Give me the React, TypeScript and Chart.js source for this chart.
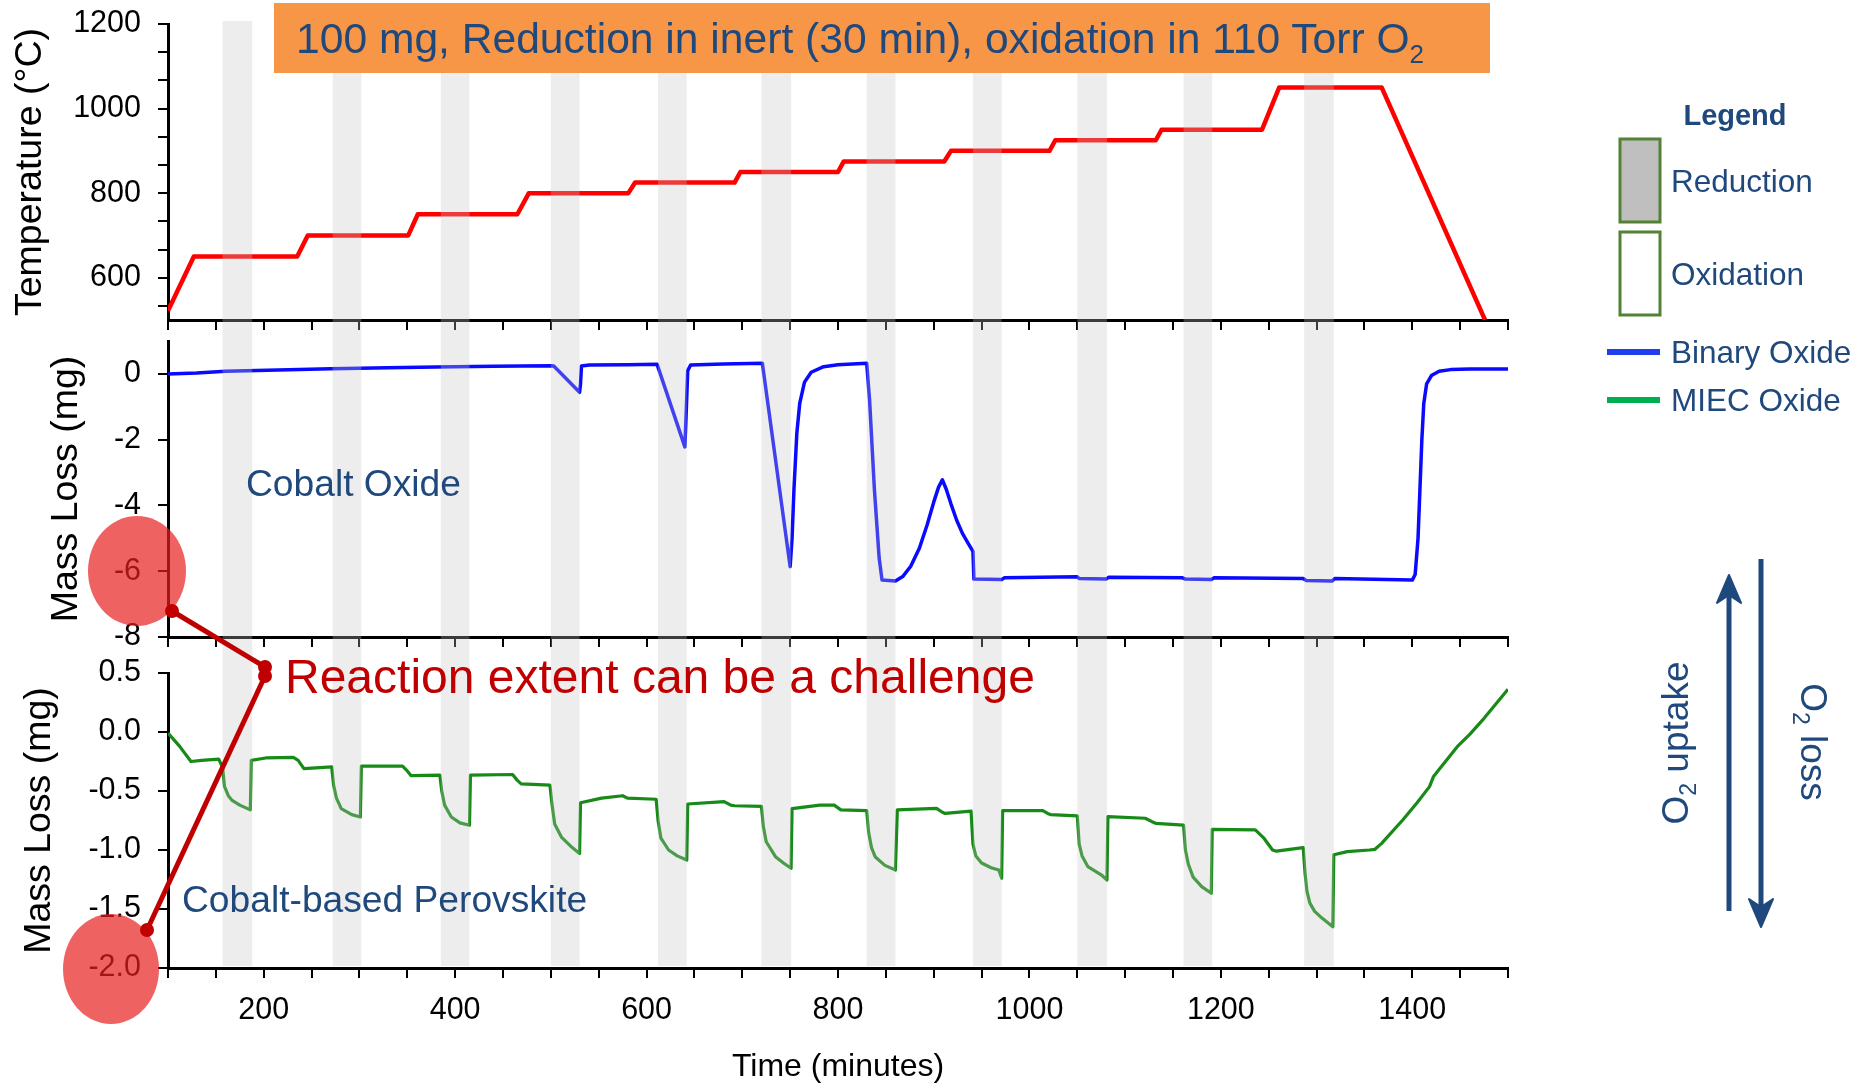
import React, { useEffect, useRef } from 'react';
import { Chart, registerables } from 'chart.js';

Chart.register(...registerables);

const FONT = "'Liberation Sans', Arial, Helvetica, sans-serif";
const NAVY = '#1F497D';
const DARK_RED = '#C00000';
const BAND_COLOR = 'rgba(195,195,195,0.3)';

// ---------------- data ----------------
const TIME_MIN = 100;
const TIME_MAX = 1500;

// reduction (inert) windows, minutes
const REDUCTION_START = [157, 272, 385, 500, 612, 720, 830, 941, 1050, 1161, 1287];
const REDUCTION_END = [188, 302, 415, 530, 642, 751, 860, 971, 1081, 1191, 1318];

// x axis ticks
const X_TICKS = [100, 150, 200, 250, 300, 350, 400, 450, 500, 550, 600, 650, 700, 750, 800, 850, 900, 950, 1000, 1050, 1100, 1150, 1200, 1250, 1300, 1350, 1400, 1450, 1500];
const X_LABELS = [200, 400, 600, 800, 1000, 1200, 1400];

// temperature panel
const TEMP_TICKS = [533.333, 600, 666.667, 733.333, 800, 866.667, 933.333, 1000, 1066.667, 1133.333, 1200];
const TEMP_LABELS = [600, 800, 1000, 1200];
const TEMP_TIME = [100, 127, 235, 246, 351, 361, 465, 477, 581, 588, 692, 698, 800, 806, 911, 918, 1021, 1027, 1132, 1138, 1243, 1261, 1368, 1476];
const TEMP_VALUE = [522, 650, 650, 700, 700, 750, 750, 800, 800, 825, 825, 850, 850, 875, 875, 900, 900, 925, 925, 950, 950, 1050, 1050, 500];

// binary oxide (cobalt oxide) panel
const BINARY_TICKS = [-8, -6, -4, -2, 0];
const BINARY_TIME = [100, 130, 160, 215, 270, 330, 380, 440, 500, 503, 530, 531, 532, 540, 580, 611, 640, 641, 643, 646, 680, 721, 750, 752, 754, 757, 760, 765, 772, 785, 800, 830, 833, 838, 843, 846, 860, 868, 876, 885, 893, 900, 905, 909, 913, 918, 924, 930, 936, 941, 942, 971, 974, 1050, 1052, 1080, 1083, 1160, 1163, 1190, 1193, 1286, 1289, 1316, 1319, 1400, 1403, 1406, 1408, 1410, 1412, 1415, 1420, 1428, 1440, 1460, 1500];
const BINARY_MASS = [0, 0.03, 0.08, 0.12, 0.16, 0.19, 0.21, 0.23, 0.25, 0.24, -0.56, -0.3, 0.24, 0.27, 0.28, 0.29, -2.22, -1.5, 0.1, 0.27, 0.3, 0.32, -5.86, -5.0, -3.5, -1.8, -0.9, -0.25, 0.05, 0.22, 0.28, 0.32, -0.8, -3.5, -5.6, -6.27, -6.3, -6.15, -5.85, -5.3, -4.6, -3.9, -3.45, -3.22, -3.5, -3.95, -4.45, -4.85, -5.15, -5.4, -6.24, -6.25, -6.2, -6.17, -6.22, -6.24, -6.18, -6.2, -6.24, -6.25, -6.2, -6.22, -6.28, -6.3, -6.22, -6.27, -6.1, -5.0, -3.5, -2.0, -0.9, -0.3, -0.05, 0.08, 0.13, 0.15, 0.15];

// MIEC oxide (cobalt-based perovskite) panel
const MIEC_TICKS = [-2, -1.5, -1, -0.5, 0, 0.5];
const MIEC_TIME = [100, 112, 124, 135, 153, 157, 159, 163, 167, 175, 186, 187, 202, 231, 236, 242, 271, 273, 276, 281, 292, 301, 302, 345, 350, 354, 384, 386, 389, 396, 405, 415, 416, 460, 465, 469, 499, 501, 504, 511, 521, 530, 531, 553, 575, 580, 610, 612, 615, 623, 632, 642, 643, 681, 688, 692, 720, 722, 725, 735, 743, 751, 752, 781, 796, 803, 830, 832, 835, 839, 849, 860, 862, 903, 909, 912, 939, 941, 944, 950, 960, 968, 971, 972, 1014, 1019, 1022, 1050, 1052, 1055, 1061, 1075, 1081, 1082, 1121, 1128, 1132, 1161, 1163, 1166, 1171, 1180, 1190, 1191, 1236, 1245, 1254, 1258, 1286, 1288, 1290, 1293, 1298, 1304, 1317, 1318, 1332, 1355, 1361, 1368, 1390, 1405, 1418, 1422, 1429, 1447, 1460, 1475, 1500];
const MIEC_MASS = [-0.01, -0.12, -0.25, -0.24, -0.23, -0.3, -0.46, -0.54, -0.58, -0.62, -0.66, -0.24, -0.22, -0.215, -0.24, -0.31, -0.295, -0.45, -0.56, -0.65, -0.7, -0.72, -0.29, -0.29, -0.33, -0.37, -0.365, -0.5, -0.62, -0.72, -0.77, -0.79, -0.365, -0.36, -0.41, -0.44, -0.45, -0.6, -0.78, -0.89, -0.97, -1.03, -0.6, -0.56, -0.54, -0.56, -0.57, -0.75, -0.9, -1.0, -1.05, -1.085, -0.61, -0.59, -0.62, -0.625, -0.63, -0.8, -0.93, -1.06, -1.11, -1.155, -0.65, -0.62, -0.62, -0.66, -0.667, -0.85, -0.98, -1.06, -1.13, -1.17, -0.66, -0.647, -0.68, -0.69, -0.67, -0.95, -1.05, -1.11, -1.15, -1.17, -1.24, -0.667, -0.667, -0.69, -0.7, -0.71, -0.95, -1.05, -1.14, -1.21, -1.254, -0.717, -0.731, -0.76, -0.774, -0.79, -1.0, -1.12, -1.23, -1.31, -1.367, -0.825, -0.83, -0.9, -1.0, -1.01, -0.98, -1.2, -1.35, -1.45, -1.52, -1.565, -1.65, -1.04, -1.014, -1.0, -0.994, -0.944, -0.746, -0.6, -0.463, -0.38, -0.308, -0.124, -0.02, 0.116, 0.362];

// ---------------- helpers ----------------
const toPoints = (xs: number[], ys: number[]) => xs.map((x, i) => ({ x, y: ys[i] }));

type PanelOpts = {
  points: { x: number; y: number }[];
  color: string;
  lineWidth: number;
  yMin: number;
  yMax: number;
  yTicks: number[];
  yLabel: (v: number) => string;
  yTitle: string;
  padLeft: number;
  padTop: number;
  yAxisWidth: number;
  xAxisHeight: number;
  xLabels: boolean;
  bandTop: number;
  bandStopAtAxis: boolean;
};

function bandsPlugin(top: number, stopAtAxis: boolean) {
  return {
    id: 'reductionBands',
    afterDatasetsDraw(chart: any) {
      const { ctx, chartArea, height } = chart;
      const x = chart.scales.x;
      const y1 = stopAtAxis ? chartArea.bottom - 2 : height;
      ctx.save();
      ctx.fillStyle = BAND_COLOR;
      for (let i = 0; i < REDUCTION_START.length; i++) {
        const a = x.getPixelForValue(REDUCTION_START[i]);
        const b = x.getPixelForValue(REDUCTION_END[i]);
        ctx.fillRect(a, top, b - a, y1 - top);
      }
      ctx.restore();
    },
  };
}

function buildConfig(o: PanelOpts): any {
  return {
    type: 'line',
    data: {
      datasets: [
        {
          data: o.points,
          borderColor: o.color,
          borderWidth: o.lineWidth,
          pointRadius: 0,
          tension: 0,
          fill: false,
          borderJoinStyle: 'round',
        },
      ],
    },
    options: {
      responsive: false,
      animation: false,
      events: [],
      devicePixelRatio: 1,
      layout: { padding: { left: o.padLeft, top: o.padTop, right: 22, bottom: 0 } },
      plugins: { legend: { display: false }, tooltip: { enabled: false } },
      scales: {
        x: {
          type: 'linear',
          min: TIME_MIN,
          max: TIME_MAX,
          afterBuildTicks: (scale: any) => {
            scale.ticks = X_TICKS.map((v) => ({ value: v }));
          },
          afterFit: (scale: any) => {
            scale.height = o.xAxisHeight;
            scale.paddingLeft = 0;
            scale.paddingRight = 0;
          },
          ticks: {
            autoSkip: false,
            maxRotation: 0,
            padding: 14,
            color: '#000',
            font: { family: FONT, size: 30.5 },
            callback: (v: any) => (o.xLabels && X_LABELS.includes(Number(v)) ? String(v) : ''),
          },
          grid: {
            drawOnChartArea: false,
            drawTicks: true,
            tickLength: 10,
            color: '#000',
            lineWidth: 2,
          },
          border: { display: true, color: '#000', width: 3 },
          title: o.xLabels
            ? {
                display: true,
                text: 'Time (minutes)',
                color: '#000',
                font: { family: FONT, size: 32 },
                padding: { top: 0, bottom: 2 },
              }
            : { display: false },
        },
        y: {
          type: 'linear',
          min: o.yMin,
          max: o.yMax,
          afterBuildTicks: (scale: any) => {
            scale.ticks = o.yTicks.map((v) => ({ value: v }));
          },
          afterFit: (scale: any) => {
            scale.width = o.yAxisWidth;
            scale.paddingTop = 0;
            scale.paddingBottom = 0;
          },
          ticks: {
            autoSkip: false,
            padding: 17,
            color: '#000',
            font: { family: FONT, size: 30.5 },
            callback: (v: any) => o.yLabel(Number(v)),
          },
          grid: {
            drawOnChartArea: false,
            drawTicks: true,
            tickLength: 10,
            color: '#000',
            lineWidth: 2,
          },
          border: { display: true, color: '#000', width: 3 },
          title: {
            display: true,
            text: o.yTitle,
            color: '#000',
            font: { family: FONT, size: 37.5 },
            padding: { top: 0, bottom: 0 },
          },
        },
      },
    },
    plugins: [bandsPlugin(o.bandTop, o.bandStopAtAxis)],
  };
}

const TOP_H = 330;
const MID_TOP = 330;
const MID_H = 322;
const BOT_TOP = 652;
const BOT_H = 436;
const CANVAS_W = 1530;

export default function App() {
  const topRef = useRef<HTMLCanvasElement>(null);
  const midRef = useRef<HTMLCanvasElement>(null);
  const botRef = useRef<HTMLCanvasElement>(null);

  useEffect(() => {
    document.body.style.overflow = 'hidden';
    const charts: Chart[] = [];
    charts.push(
      new Chart(
        topRef.current as HTMLCanvasElement,
        buildConfig({
          points: toPoints(TEMP_TIME, TEMP_VALUE),
          color: '#FF0000',
          lineWidth: 4.5,
          yMin: 500,
          yMax: 1200,
          yTicks: TEMP_TICKS,
          yLabel: (v) => (TEMP_LABELS.includes(v) ? String(v) : ''),
          yTitle: 'Temperature (°C)',
          padLeft: 8,
          padTop: 24,
          yAxisWidth: 160,
          xAxisHeight: 10,
          xLabels: false,
          bandTop: 21,
          bandStopAtAxis: false,
        })
      )
    );
    charts.push(
      new Chart(
        midRef.current as HTMLCanvasElement,
        buildConfig({
          points: toPoints(BINARY_TIME, BINARY_MASS),
          color: '#0A0AFF',
          lineWidth: 3.5,
          yMin: -8,
          yMax: 1,
          yTicks: BINARY_TICKS,
          yLabel: (v) => String(v),
          yTitle: 'Mass Loss (mg)',
          padLeft: 44,
          padTop: 11,
          yAxisWidth: 124,
          xAxisHeight: 15,
          xLabels: false,
          bandTop: 0,
          bandStopAtAxis: false,
        })
      )
    );
    charts.push(
      new Chart(
        botRef.current as HTMLCanvasElement,
        buildConfig({
          points: toPoints(MIEC_TIME, MIEC_MASS),
          color: '#178A17',
          lineWidth: 3.2,
          yMin: -2,
          yMax: 0.5,
          yTicks: MIEC_TICKS,
          yLabel: (v) => v.toFixed(1),
          yTitle: 'Mass Loss (mg)',
          padLeft: 17,
          padTop: 21,
          yAxisWidth: 151,
          xAxisHeight: 120,
          xLabels: true,
          bandTop: 0,
          bandStopAtAxis: true,
        })
      )
    );
    return () => charts.forEach((c) => c.destroy());
  }, []);

  const canvasStyle = (top: number, h: number): React.CSSProperties => ({
    position: 'absolute',
    left: 0,
    top,
    width: CANVAS_W,
    height: h,
  });

  return (
    <div
      style={{
        position: 'absolute',
        left: 0,
        top: 0,
        width: 1874,
        height: 1088,
        background: '#fff',
        overflow: 'hidden',
        fontFamily: FONT,
      }}
    >
      <canvas ref={topRef} width={CANVAS_W} height={TOP_H} style={canvasStyle(0, TOP_H)} />
      <canvas ref={midRef} width={CANVAS_W} height={MID_H} style={canvasStyle(MID_TOP, MID_H)} />
      <canvas ref={botRef} width={CANVAS_W} height={BOT_H} style={canvasStyle(BOT_TOP, BOT_H)} />
      <svg
        width={1874}
        height={1088}
        style={{ position: 'absolute', left: 0, top: 0, pointerEvents: 'none' }}
        fontFamily={FONT}
      >
        {/* banner */}
        <rect x={274} y={3} width={1216} height={70} fill="#F79646" />
        <text x={296} y={53} fontSize={42.6} fill={NAVY}>
          100 mg, Reduction in inert (30 min), oxidation in 110 Torr O
          <tspan fontSize={26} dy={10}>2</tspan>
        </text>

        {/* legend */}
        <text x={1735} y={125} fontSize={29} fontWeight="bold" fill={NAVY} textAnchor="middle">
          Legend
        </text>
        <rect x={1620} y={139} width={40} height={83} fill="#BFBFBF" stroke="#538135" strokeWidth={3} />
        <text x={1671} y={192} fontSize={31.5} fill={NAVY}>
          Reduction
        </text>
        <rect x={1620} y={232} width={40} height={83} fill="#FFFFFF" stroke="#538135" strokeWidth={3} />
        <text x={1671} y={285} fontSize={31.5} fill={NAVY}>
          Oxidation
        </text>
        <line x1={1607} x2={1660} y1={352} y2={352} stroke="#1F3FEF" strokeWidth={6} />
        <text x={1671} y={363} fontSize={31.5} fill={NAVY}>
          Binary Oxide
        </text>
        <line x1={1607} x2={1660} y1={400} y2={400} stroke="#00B050" strokeWidth={6} />
        <text x={1671} y={411} fontSize={31.5} fill={NAVY}>
          MIEC Oxide
        </text>

        {/* panel labels */}
        <text x={246} y={496} fontSize={37.2} fill={NAVY}>
          Cobalt Oxide
        </text>
        <text x={182} y={912} fontSize={37.2} fill={NAVY}>
          Cobalt-based Perovskite
        </text>

        {/* highlight ellipses */}
        <ellipse cx={137} cy={571} rx={49} ry={55} fill="#E82020" fillOpacity={0.7} />
        <ellipse cx={111} cy={969} rx={48} ry={55} fill="#E82020" fillOpacity={0.7} />

        {/* connector */}
        <line x1={172} y1={611} x2={265} y2={667} stroke={DARK_RED} strokeWidth={5} />
        <line x1={265} y1={676} x2={147} y2={930} stroke={DARK_RED} strokeWidth={5} />
        <circle cx={172} cy={611} r={7} fill={DARK_RED} />
        <circle cx={265} cy={667} r={7} fill={DARK_RED} />
        <circle cx={265} cy={676} r={7} fill={DARK_RED} />
        <circle cx={147} cy={930} r={7} fill={DARK_RED} />
        <text x={285} y={693} fontSize={48} fill={DARK_RED}>
          Reaction extent can be a challenge
        </text>

        {/* O2 arrows */}
        <line x1={1729} y1={911} x2={1729} y2={590} stroke={NAVY} strokeWidth={5} />
        <path d="M1729 575 L1741 603 L1729 595 L1717 603 Z" fill={NAVY} stroke={NAVY} strokeWidth={2} strokeLinejoin="round" />
        <line x1={1761} y1={559} x2={1761} y2={912} stroke={NAVY} strokeWidth={5} />
        <path d="M1761 927 L1773 899 L1761 907 L1749 899 Z" fill={NAVY} stroke={NAVY} strokeWidth={2} strokeLinejoin="round" />
        <text x={1688} y={743} fontSize={37} fill={NAVY} textAnchor="middle" transform="rotate(-90 1688 743)">
          O<tspan fontSize={23} dy={8}>2</tspan>
          <tspan dy={-8}> uptake</tspan>
        </text>
        <text x={1801} y={742} fontSize={37} fill={NAVY} textAnchor="middle" transform="rotate(90 1801 742)">
          O<tspan fontSize={23} dy={8}>2</tspan>
          <tspan dy={-8}> loss</tspan>
        </text>
      </svg>
    </div>
  );
}
